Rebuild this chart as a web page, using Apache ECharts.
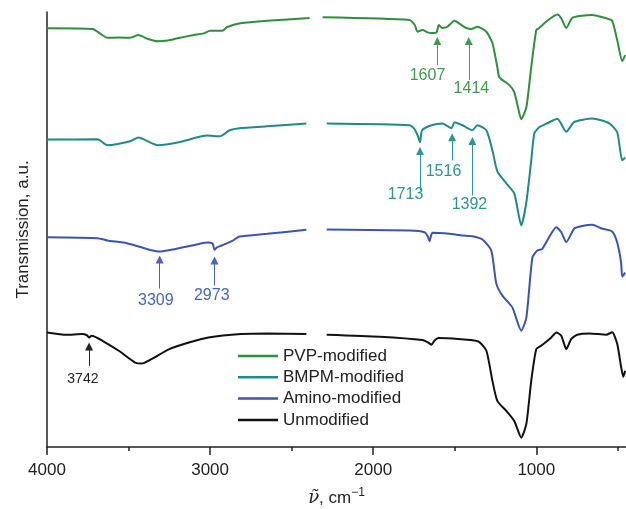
<!DOCTYPE html>
<html><head><meta charset="utf-8">
<script src="https://cdn.jsdelivr.net/npm/echarts@6/dist/echarts.min.js"></script>
<style>html,body{margin:0;padding:0;background:#fff}#c{width:626px;height:509px}</style>
</head><body><div id="c"></div>
<script>
// x: wavenumber (cm^-1), y: transmission (a.u., offset spectra); '-' = no data (CO2 region removed)
const pvp = [[4000,417.7],[3720,417],[3670,412],[3630,408.3],[3560,408.5],[3490,408.3],[3440,411],[3380,407],[3320,404.7],[3260,405.5],[3185,408.3],[3100,411],[3040,412.7],[3000,415.3],[2925,415.3],[2895,419],[2815,422.7],[2650,425.3],[2390,428],[2350,'-'],[2310,428.7],[1778,426],[1745,421],[1729,414.3],[1698,416],[1667,413.7],[1640,413],[1612,413.5],[1598,421],[1576,418],[1545,419.3],[1502,425.3],[1459,421],[1429,418],[1398,417],[1361,419.3],[1306,414.3],[1269,403],[1239,379],[1227,369],[1165,361],[1135,354],[1104,333],[1092,327],[1061,339],[1031,379],[1000,416],[982,418],[933,425.3],[871,431.5],[847,427.7],[816,418],[780,428],[718,430.3],[657,431],[571,427.7],[535,425.3],[504,406],[473,385],[455,391]];
const bmpm = [[4000,306.7],[3690,307],[3630,301],[3490,305],[3440,308.7],[3320,301],[3185,304.3],[3020,310.7],[2940,310],[2880,316],[2820,318],[2650,320],[2410,322.7],[2350,'-'],[2285,322.7],[1778,321],[1750,318],[1725,310],[1713,304],[1700,316],[1643,321],[1576,322.7],[1520,318],[1502,324],[1453,321],[1392,316],[1361,321],[1306,316],[1269,296],[1239,275],[1184,263],[1135,253],[1092,221],[1061,244],[1031,286],[1012,313],[982,319],[933,323],[871,327.5],[816,314.5],[767,324.3],[657,327.7],[553,323],[504,314],[473,286],[455,289]];
const amino = [[4000,209.3],[3690,208.3],[3630,206],[3510,203.3],[3390,197.7],[3309,195],[3230,197],[3110,201],[3020,204],[2985,203],[2973,196.7],[2960,199],[2930,201],[2860,206],[2820,210],[2650,212.7],[2410,216.7],[2350,'-'],[2285,217],[1778,216],[1686,214.3],[1665,210],[1655,205.3],[1645,211],[1637,213.7],[1533,212.7],[1453,211],[1392,210.3],[1330,207],[1276,196],[1245,163],[1208,151],[1147,139.3],[1092,116],[1061,129],[1024,189],[994,196],[963,197.7],[877,219.3],[847,214.3],[816,204.5],[767,218],[718,220.5],[657,221.7],[600,218],[535,215],[504,204],[480,184],[473,170],[455,174]];
const unmod = [[4000,114.3],[3880,112],[3785,112.7],[3755,111.5],[3742,109.3],[3725,111],[3660,106],[3560,96],[3460,84.3],[3420,83.3],[3360,87.7],[3250,97.7],[3130,104.3],[3010,109.3],[2810,112.7],[2650,113.3],[2410,112.7],[2350,'-'],[2285,112],[1960,110],[1698,106.7],[1660,104],[1643,102],[1625,106],[1600,108.7],[1480,107.7],[1355,105.3],[1306,96],[1269,66],[1239,46],[1184,36],[1135,26],[1092,9.3],[1061,23],[1031,66],[1000,97.7],[970,101],[908,109.3],[877,114.3],[847,111],[816,97.7],[786,107.7],[749,112],[675,113.3],[571,112],[535,114.5],[504,103],[480,80],[467,70],[455,76]];

const seriesNames = ['PVP-modified','BMPM-modified','Amino-modified','Unmodified'];
const majorTicks = [4000,3000,2000,1000];
const minorTicks = [3500,2500,1500,500];

// annotations: [label, wavenumber, arrow tip, arrow tail, label wavenumber, label value]
const pvpMarks = [['1607',1607,409,381,1667,371],['1414',1414,409,366,1398,358]];
const bmpmMarks = [['1713',1713,299.3,256,1802,252],['1516',1516,313,286,1569,275],['1392',1392,309.3,251,1410,242]];
const aminoMarks = [['3309',3309,191,158,3333,146],['2973',2973,190,161,2990,151]];
const unmodMarks = [['3742',3742,104.3,81,3780,68]];

const colors = ['#2f8f3f','#1e8b86','#3b53b6','#111111'];
const markColors = ['#3f9c4e','#2b9792','#4a62c4','#222222'];
const markFont = [16,16,16,14];
const datasets = [pvp,bmpm,amino,unmod];
const marks = [pvpMarks,bmpmMarks,aminoMarks,unmodMarks];
const FONT = '"Liberation Sans", Arial, sans-serif';

const series = seriesNames.map((name,i)=>({
  name, type:'line', data: datasets[i], showSymbol:false, symbol:'none', smooth:0.2,
  lineStyle:{color:colors[i], width:2}, itemStyle:{color:colors[i]},
  emphasis:{disabled:true}, z: 10-i,
  markLine:{silent:true, symbol:['none','triangle'], symbolSize:8, animation:false,
    label:{show:false}, emphasis:{disabled:true},
    itemStyle:{color:markColors[i]},
    lineStyle:{color:markColors[i], width:1, type:'solid'},
    data: marks[i].map(m=>[{coord:[m[1],m[3]]},{coord:[m[1],m[2]-4]}])},
  markPoint:{silent:true, symbol:'rect', symbolSize:1, itemStyle:{color:'rgba(0,0,0,0)'}, animation:false,
    label:{show:true, position:'inside', color:markColors[i], fontSize:markFont[i], fontFamily:FONT},
    data: marks[i].map(m=>({coord:[m[4],m[5]], value:m[0], label:{formatter:m[0]}}))}
}));

const chart = echarts.init(document.getElementById('c'), null, {renderer:'canvas'});
chart.setOption({
  animation:false,
  textStyle:{fontFamily:FONT},
  grid:{left:47, right:0, top:12, bottom:62, outerBoundsMode:'none'},
  legend:{orient:'vertical', left:238, top:347, padding:0, itemWidth:40, itemHeight:2.5, itemGap:3.3,
    icon:'rect',
    data:seriesNames, textStyle:{fontSize:17, color:'#222', fontFamily:FONT, lineHeight:18}},
  xAxis:[{type:'value', inverse:true, min:450, max:4000,
    axisLine:{show:true, lineStyle:{color:'#222', width:1.5}},
    axisTick:{show:true, customValues:majorTicks, length:8, lineStyle:{color:'#222', width:1.5}},
    axisLabel:{customValues:majorTicks, fontSize:17, color:'#222', margin:15, fontFamily:FONT,
      formatter:v=>String(v)},
    splitLine:{show:false},
    name:'{nu|ν̃}{t|, cm}{sup|−1}', nameLocation:'middle', nameGap:40,
    nameTextStyle:{color:'#222', fontSize:17, fontFamily:FONT,
      rich:{nu:{fontSize:18, fontStyle:'italic', fontFamily:'"DejaVu Serif", serif', color:'#222'},
            t:{fontSize:17, color:'#222', lineHeight:22},
            sup:{fontSize:12, color:'#222', verticalAlign:'top', lineHeight:12}}}},
   {type:'value', inverse:true, min:450, max:4000, position:'bottom',
    axisLine:{show:false},
    axisTick:{show:true, customValues:minorTicks, length:4, lineStyle:{color:'#222', width:1.5}},
    axisLabel:{show:false}, splitLine:{show:false}}],
  yAxis:{type:'value', min:0, max:434,
    axisLine:{show:true, lineStyle:{color:'#222', width:1.5}},
    axisTick:{show:false}, axisLabel:{show:false}, splitLine:{show:false},
    name:'Transmission, a.u.', nameLocation:'middle', nameGap:15,
    nameTextStyle:{fontSize:17, color:'#222', fontFamily:FONT}},
  series
});
</script></body></html>
